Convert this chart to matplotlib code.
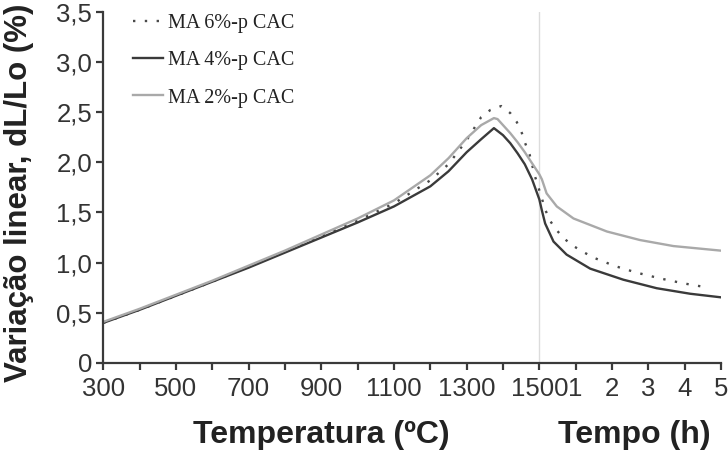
import numpy as np
import matplotlib
matplotlib.use("Agg")
import matplotlib.pyplot as plt

# temperature stage (°C) followed by holding stage (h)
ma6_temp = [300, 400, 500, 600, 700, 800, 900, 1000, 1100, 1200, 1250, 1300, 1340,
            1365, 1395, 1420, 1438, 1452, 1461, 1473, 1488, 1500]
ma6_temp_dl = [0.40, 0.53, 0.67, 0.81, 0.96, 1.11, 1.26, 1.42, 1.59, 1.82, 1.98, 2.22, 2.45,
               2.52, 2.56, 2.49, 2.40, 2.29, 2.19, 2.08, 1.86, 1.72]
ma6_time = [0.07, 0.16, 0.29, 0.46, 0.68, 0.94, 1.19, 1.49, 2.08, 2.68, 3.32, 3.96, 4.6]
ma6_time_dl = [1.64, 1.53, 1.42, 1.33, 1.24, 1.165, 1.11, 1.05, 0.966, 0.90, 0.843, 0.794, 0.754]

ma4_temp = [300, 400, 500, 600, 700, 800, 900, 1000, 1100, 1200, 1250, 1300, 1340, 1375,
            1400, 1420, 1440, 1460, 1480, 1500]
ma4_temp_dl = [0.40, 0.53, 0.67, 0.81, 0.95, 1.10, 1.25, 1.40, 1.56, 1.76, 1.91, 2.10, 2.23, 2.34,
               2.27, 2.19, 2.09, 1.98, 1.83, 1.63]
ma4_time = [0.07, 0.16, 0.39, 0.75, 1.4, 2.31, 3.23, 4.15, 4.98]
ma4_time_dl = [1.52, 1.39, 1.21, 1.08, 0.94, 0.83, 0.745, 0.69, 0.655]

ma2_temp = [300, 400, 500, 600, 700, 800, 900, 1000, 1100, 1200, 1250, 1300, 1340, 1375,
            1385, 1420, 1440, 1460, 1480, 1500]
ma2_temp_dl = [0.41, 0.54, 0.68, 0.82, 0.97, 1.12, 1.28, 1.44, 1.62, 1.87, 2.04, 2.24, 2.37, 2.44,
               2.43, 2.29, 2.20, 2.10, 1.99, 1.88]
ma2_time = [0.07, 0.2, 0.48, 0.94, 1.86, 2.77, 3.69, 4.98]
ma2_time_dl = [1.83, 1.69, 1.56, 1.44, 1.31, 1.225, 1.165, 1.12]

temp_ticks = [300, 500, 700, 900, 1100, 1300, 1500]
temp_minor = [400, 600, 800, 1000, 1200, 1400]
time_ticks = [1, 2, 3, 4, 5]
y_ticks = [0, 0.5, 1.0, 1.5, 2.0, 2.5, 3.0, 3.5]
y_labels = ["0", "0,5", "1,0", "1,5", "2,0", "2,5", "3,0", "3,5"]


def time_to_x(t):
    # one hour takes the same width as 100 °C on the shared axis
    return 1500 + 100 * np.asarray(t, dtype=float)


def join(temp, temp_dl, time, time_dl):
    x = np.concatenate([temp, time_to_x(time)])
    y = np.concatenate([temp_dl, time_dl])
    return x, y


plt.rcParams["font.family"] = ["Liberation Sans", "DejaVu Sans"]

fig = plt.figure(figsize=(7.28, 4.57), dpi=100)
ax = fig.add_axes([0.1419, 0.2057, 0.8485, 0.7687])

ax.axvline(1500, color="#dcdcdc", lw=1.0, zorder=0)

x, y = join(ma6_temp, ma6_temp_dl, ma6_time, ma6_time_dl)
ax.plot(x, y, color="#4a4a4a", lw=1.7, linestyle=(0, (1, 4)), label="MA 6%-p CAC")
x, y = join(ma4_temp, ma4_temp_dl, ma4_time, ma4_time_dl)
ax.plot(x, y, color="#3a3a3a", lw=1.7, label="MA 4%-p CAC")
x, y = join(ma2_temp, ma2_temp_dl, ma2_time, ma2_time_dl)
ax.plot(x, y, color="#a9a9a9", lw=1.7, label="MA 2%-p CAC")

ax.set_xlim(300, 2000)
ax.set_ylim(0, 3.5)

major_x = list(temp_ticks) + list(time_to_x(time_ticks))
major_lbl = [str(v) for v in temp_ticks] + [str(v) for v in time_ticks]
ax.set_xticks(major_x)
ax.set_xticklabels(major_lbl)
ax.set_xticks(temp_minor, minor=True)
ax.set_yticks(y_ticks)
ax.set_yticklabels(y_labels)

for side in ["top", "right"]:
    ax.spines[side].set_visible(False)
for side in ["left", "bottom"]:
    ax.spines[side].set_color("#3a3a3a")
    ax.spines[side].set_linewidth(1.6)

ax.tick_params(which="both", direction="out", length=5, width=1.6, color="#3a3a3a",
               labelsize=18.5, labelcolor="#333333")
ax.tick_params(axis="x", which="both", pad=5)
ax.tick_params(axis="y", pad=3)

fig.text(19 / 728, 1 - 193 / 457, "Variação linear, dL/Lo (%)", rotation=90, ha="center",
         va="center", fontsize=22.5, fontweight="bold", color="#222222")
fig.text(321.7 / 728, 1 - 435 / 457, "Temperatura (ºC)", ha="center", va="center",
         fontsize=23, fontweight="bold", color="#222222")
fig.text(634 / 728, 1 - 435 / 457, "Tempo (h)", ha="center", va="center",
         fontsize=23, fontweight="bold", color="#222222")

leg = ax.legend(loc="upper left", bbox_to_anchor=(133 / 728, 1 - 14 / 457),
                bbox_transform=fig.transFigure, frameon=False, borderpad=0,
                borderaxespad=0, handlelength=1.5, handletextpad=0.25, labelspacing=0.9,
                prop={"family": "Liberation Serif", "size": 14.5})
for t in leg.get_texts():
    t.set_color("#222222")

fig.savefig("out.png", dpi=100)
